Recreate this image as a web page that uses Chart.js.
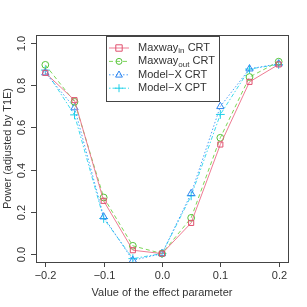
<!DOCTYPE html>
<html><head><meta charset="utf-8">
<script src="https://cdn.jsdelivr.net/npm/chart.js@4/dist/chart.umd.min.js"></script>
<style>html,body{margin:0;padding:0;background:#fff}#w{width:307px;height:307px}</style>
</head><body><div id="w"><canvas id="c" width="307" height="307"></canvas></div>
<script>
const effects = [-0.2, -0.15, -0.1, -0.05, 0, 0.05, 0.1, 0.15, 0.2];
const maxwayIn  = [0.860, 0.730, 0.251, 0.016, 0.000, 0.146, 0.519, 0.817, 0.900];
const maxwayOut = [0.898, 0.722, 0.267, 0.037, 0.000, 0.170, 0.551, 0.840, 0.913];
const modelXCRT = [0.860, 0.694, 0.175, -0.032, 0.000, 0.286, 0.700, 0.879, 0.903];
const modelXCPT = [0.873, 0.660, 0.167, -0.024, 0.000, 0.275, 0.662, 0.878, 0.900];
const xTicks = [-0.2, -0.1, 0.0, 0.1, 0.2];
const yTicks = [0.0, 0.2, 0.4, 0.6, 0.8, 1.0];
const xTitle = "Value of the effect parameter";
const yTitle = "Power (adjusted by T1E)";
const legendNames = [["Maxway","in"," CRT"],["Maxway","out"," CRT"],["Model\u2212X CRT","",""],["Model\u2212X CPT","",""]];

const pts = a => effects.map((x,i)=>({x:x,y:a[i]}));
const FONT = '"Liberation Sans", Arial, sans-serif';
const fmt = v => (v<0?'\u2212':'') + Math.abs(v).toFixed(1);

const styles = [
  {line:'rgba(236,110,135,0.9)', pt:'#e0506e', dash:[], shape:'rect', r:3.2},
  {line:'rgba(110,210,70,0.9)', pt:'#55c23a', dash:[4,3], shape:'circle', r:3},
  {line:'rgba(60,150,250,0.9)', pt:'#2f86f0', dash:[1.5,2], shape:'triangle', r:3.8},
  {line:'rgba(40,215,235,0.9)', pt:'#20d0e8', dash:[1.5,2,4,2], shape:'cross', r:4}
];
const series = [maxwayIn, maxwayOut, modelXCRT, modelXCPT];

const axesPlugin = {
  id:'rAxes',
  afterDraw(chart){
    const ctx = chart.ctx, a = chart.chartArea;
    const xs = chart.scales.x, ys = chart.scales.y;
    ctx.save();
    ctx.strokeStyle = '#444'; ctx.lineWidth = 1; ctx.fillStyle = '#333';
    ctx.strokeRect(Math.round(a.left)+0.5, Math.round(a.top)+0.5, Math.round(a.right-a.left), Math.round(a.bottom-a.top));
    ctx.font = '11px ' + FONT;
    // x axis
    ctx.textAlign='center'; ctx.textBaseline='middle';
    xTicks.forEach(v=>{
      const px = Math.round(xs.getPixelForValue(v))+0.5;
      ctx.beginPath(); ctx.moveTo(px, a.bottom); ctx.lineTo(px, a.bottom+5); ctx.stroke();
      ctx.fillText(fmt(v), px, a.bottom+14);
    });
    // y axis
    yTicks.forEach(v=>{
      const py = Math.round(ys.getPixelForValue(v))+0.5;
      ctx.beginPath(); ctx.moveTo(a.left, py); ctx.lineTo(a.left-5, py); ctx.stroke();
      ctx.save(); ctx.translate(a.left-14, py); ctx.rotate(-Math.PI/2);
      ctx.fillText(fmt(v), 0, 0); ctx.restore();
    });
    ctx.fillText(xTitle, (a.left+a.right)/2, a.bottom+31);
    ctx.save(); ctx.translate(8, (a.top+a.bottom)/2); ctx.rotate(-Math.PI/2);
    ctx.fillText(yTitle, 0, 0); ctx.restore();
    // legend
    const lx=106, ly=36, lw=113, lh=65;
    ctx.fillStyle='#fff'; ctx.fillRect(lx,ly,lw,lh);
    ctx.strokeStyle='#444'; ctx.strokeRect(lx+0.5,ly+0.5,lw,lh);
    legendNames.forEach((nm,i)=>{
      const s = styles[i], cy = 48 + i*13.4;
      ctx.strokeStyle = s.line; ctx.lineWidth=1; ctx.setLineDash(s.dash);
      ctx.beginPath(); ctx.moveTo(109, cy); ctx.lineTo(129, cy); ctx.stroke();
      ctx.setLineDash([]);
      drawPt(ctx, s, 119, cy);
      ctx.fillStyle='#333'; ctx.textAlign='left'; ctx.font='11px '+FONT;
      ctx.fillText(nm[0], 138, cy);
      let w = ctx.measureText(nm[0]).width;
      if(nm[1]){
        ctx.font='8px '+FONT; ctx.fillText(nm[1], 138+w, cy+3);
        w += ctx.measureText(nm[1]).width;
        ctx.font='11px '+FONT; ctx.fillText(nm[2], 138+w, cy);
      }
    });
    ctx.restore();
  }
};
function drawPt(ctx,s,x,y){
  ctx.save(); ctx.strokeStyle=s.pt; ctx.lineWidth=1; ctx.beginPath();
  const r=s.r;
  if(s.shape==='rect'){ ctx.rect(x-r,y-r,2*r,2*r); }
  else if(s.shape==='circle'){ ctx.arc(x,y,r,0,Math.PI*2); }
  else if(s.shape==='triangle'){ ctx.moveTo(x,y-r); ctx.lineTo(x+r*0.9,y+r*0.6); ctx.lineTo(x-r*0.9,y+r*0.6); ctx.closePath(); }
  else { ctx.moveTo(x-r,y); ctx.lineTo(x+r,y); ctx.moveTo(x,y-r); ctx.lineTo(x,y+r); }
  ctx.stroke(); ctx.restore();
}

new Chart(document.getElementById('c'), {
  type:'line',
  data:{ datasets: series.map((d,i)=>({
    data: pts(d), borderColor: styles[i].line, borderWidth:1, borderDash: styles[i].dash,
    pointStyle: styles[i].shape==='rect'?'rect':styles[i].shape==='circle'?'circle':styles[i].shape==='triangle'?'triangle':'cross',
    pointRadius: styles[i].r+0.4, pointBorderColor: styles[i].pt, pointBackgroundColor:'rgba(0,0,0,0)',
    pointBorderWidth:1, tension:0, fill:false, clip:false
  }))},
  options:{
    responsive:false, animation:false, devicePixelRatio:1,
    layout:{padding:{left:36,right:19,top:35,bottom:45}},
    plugins:{legend:{display:false}, tooltip:{enabled:false}},
    scales:{
      x:{type:'linear', display:false, min:-0.216, max:0.216},
      y:{type:'linear', display:false, min:-0.04, max:1.04}
    }
  },
  plugins:[axesPlugin]
});
</script></body></html>
